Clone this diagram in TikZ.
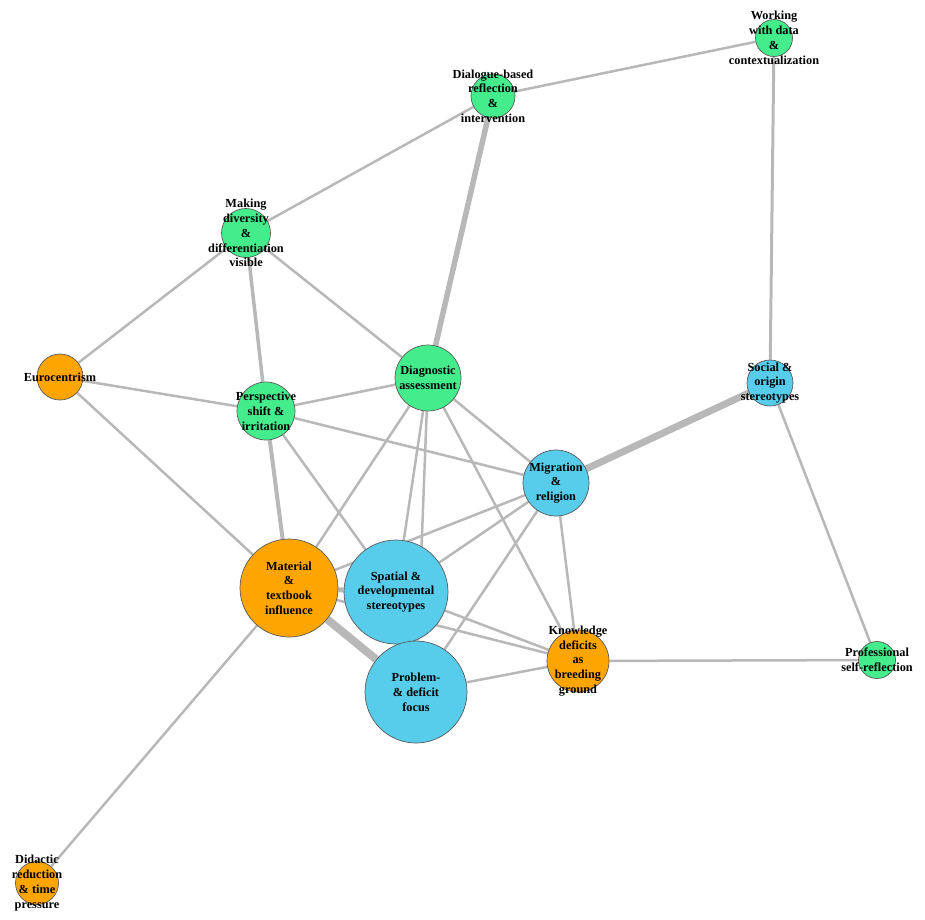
\documentclass[tikz,border=0pt]{standalone}
\usepackage{fontspec}
\setmainfont{Liberation Serif}
\usetikzlibrary{backgrounds}

\definecolor{topicgreen}{HTML}{45EC8B}
\definecolor{topicblue}{HTML}{57CDEB}
\definecolor{topicorange}{HTML}{FFA500}

\begin{document}
\begin{tikzpicture}[%
    x=1pt, y=-1pt,
    topic/.style 2 args={
        draw=black!65,
        line width=0.7pt,
        circle,
        inner sep=0pt,
        fill=#1,
        minimum size=#2
        },
    topiclabel/.style={
        align=center,
        inner sep=0pt,
        font=\fontsize{12.3}{14.8}\selectfont\bfseries
        },
    link/.style={
        draw=black!28,
        line cap=butt}
]

\useasboundingbox (0,0) rectangle (925,919);

% topics
\node[topic={topicgreen}{37pt}]  (work)  at (774,38)  {};
\node[topic={topicgreen}{44pt}]  (dial)  at (493,96)  {};
\node[topic={topicgreen}{49pt}]  (make)  at (246,233) {};
\node[topic={topicorange}{46pt}] (euro)  at (60,377)  {};
\node[topic={topicgreen}{58pt}]  (persp) at (266,411) {};
\node[topic={topicgreen}{66pt}]  (diag)  at (428,378) {};
\node[topic={topicblue}{46pt}]   (soc)   at (770,383) {};
\node[topic={topicblue}{66pt}]   (migr)  at (556,483) {};
\node[topic={topicorange}{98pt}] (mat)   at (289,588) {};
\node[topic={topicblue}{104pt}]  (spat)  at (396,592) {};
\node[topic={topicorange}{62pt}] (know)  at (578,661) {};
\node[topic={topicblue}{102pt}]  (prob)  at (416,692) {};
\node[topic={topicgreen}{37pt}]  (prof)  at (877,660) {};
\node[topic={topicorange}{43pt}] (did)   at (37,883)  {};

% labels
\node[topiclabel] (work-t)  at (work)  {Working\\with data\\\&\\contextualization};
\node[topiclabel] (dial-t)  at (dial)  {Dialogue-based\\reflection\\\&\\intervention};
\node[topiclabel] (make-t)  at (make)  {Making\\diversity\\\&\\differentiation\\visible};
\node[topiclabel] (euro-t)  at (euro)  {Eurocentrism};
\node[topiclabel] (persp-t) at (persp) {Perspective\\shift \&\\irritation};
\node[topiclabel] (diag-t)  at (diag)  {Diagnostic\\assessment};
\node[topiclabel] (soc-t)   at (soc)   {Social \&\\origin\\stereotypes};
\node[topiclabel] (migr-t)  at (migr)  {Migration\\\&\\religion};
\node[topiclabel] (mat-t)   at (mat)   {Material\\\&\\textbook\\influence};
\node[topiclabel] (spat-t)  at (spat)  {Spatial \&\\developmental\\stereotypes};
\node[topiclabel] (know-t)  at (know)  {Knowledge\\deficits\\as\\breeding\\ground};
\node[topiclabel] (prob-t)  at (prob)  {Problem-\\\& deficit\\focus};
\node[topiclabel] (prof-t)  at (prof)  {Professional\\self-reflection};
\node[topiclabel] (did-t)   at (did)   {Didactic\\reduction\\\& time\\pressure};

\begin{scope}[on background layer]
\foreach \a/\b/\w in {work/dial/2.5, work/soc/3, dial/make/2.5, dial/diag/5.5,
        make/euro/2.5, make/persp/3.5, make/diag/2.5,
        euro/persp/2.5, euro/mat/2.5,
        persp/diag/2.5, persp/migr/2.5, persp/mat/4, persp/spat/2.5,
        diag/mat/2.5, diag/spat/2.5, diag/prob/2.5, diag/know/2.5, diag/migr/2.5,
        soc/migr/7, soc/prof/2.5,
        migr/spat/2.5, migr/mat/2.5, migr/prob/2.5, migr/know/2.5,
        mat/spat/5, mat/prob/8, mat/did/2.5, mat/know/2.5,
        spat/know/2.5, prob/know/2.5, know/prof/2.5}
    \draw[link, line width=\w pt] (\a) -- (\b);
\end{scope}
\end{tikzpicture}
\end{document}
